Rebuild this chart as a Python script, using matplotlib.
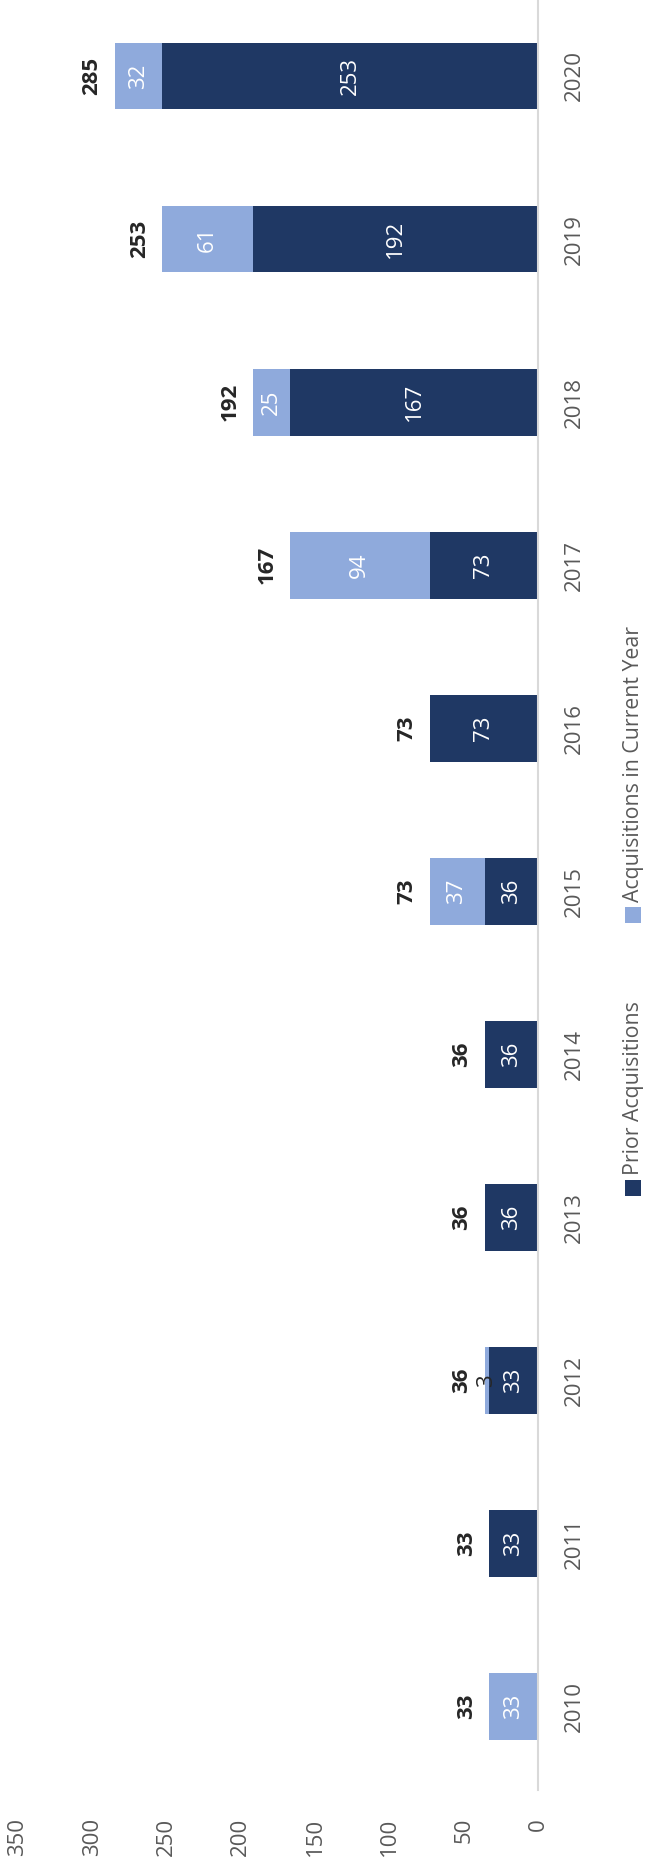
import matplotlib
matplotlib.use('Agg')
import matplotlib.pyplot as plt
from matplotlib.patches import Rectangle
import numpy as np

# ---- data ----
years = ['2010', '2011', '2012', '2013', '2014', '2015', '2016', '2017', '2018', '2019', '2020']
prior = [0, 33, 33, 36, 36, 36, 73, 73, 167, 192, 253]
current = [33, 0, 3, 0, 0, 37, 0, 94, 25, 61, 32]
totals = [33, 33, 36, 36, 36, 73, 73, 167, 192, 253, 285]
series_names = ['Prior Acquisitions', 'Acquisitions in Current Year']
value_ticks = [0, 50, 100, 150, 200, 250, 300, 350]

DARK = '#1F3864'
LIGHT = '#8FAADC'
GRAY = '#595959'
LBL = '#262626'

plt.rcParams['font.family'] = ['Open Sans', 'DejaVu Sans']

W, H = 645, 1864
fig = plt.figure(figsize=(W / 100, H / 100), dpi=100)

x_left, x_zero = 18, 538
y_top, y_bot = 0, 1790
ax = fig.add_axes([x_left / W, 1 - y_bot / H, (x_zero - x_left) / W, (y_bot - y_top) / H])

pos = np.arange(len(years))
bh = 0.41
ax.barh(pos, prior, height=bh, color=DARK, label=series_names[0])
ax.barh(pos, current, left=prior, height=bh, color=LIGHT, label=series_names[1])

ax.set_xlim(350, 0)
ax.set_ylim(-0.512, 10.466)

for s in ['top', 'bottom', 'left']:
    ax.spines[s].set_visible(False)
ax.spines['right'].set_color('#D9D9D9')
ax.spines['right'].set_linewidth(1.5)

ax.yaxis.tick_right()
ax.set_yticks(pos)
ax.set_yticklabels(years, rotation=90, va='center', ha='center', color=GRAY, fontsize=16)
ax.tick_params(axis='y', length=0, pad=26)

ax.set_xticks(value_ticks)
ax.set_xticklabels([str(v) for v in value_ticks], rotation=90, va='top', ha='center', color=GRAY, fontsize=16)
ax.tick_params(axis='x', length=0, pad=20)

# segment labels
for i in range(len(years)):
    if prior[i] > 0:
        ax.text(prior[i] / 2, pos[i], str(prior[i]), rotation=90, ha='center', va='center',
                color='white', fontsize=16)
    if current[i] > 0:
        c = 'white' if current[i] > 10 else LBL
        ax.text(prior[i] + current[i] / 2, pos[i], str(current[i]), rotation=90, ha='center',
                va='center', color=c, fontsize=16)
    ax.annotate(str(totals[i]), xy=(totals[i], pos[i]), xytext=(-12, 0), textcoords='offset pixels',
                rotation=90, ha='right', va='center', color=LBL, fontsize=16, fontweight='bold')

# legend (rotated, drawn manually in figure pixel coords)
def fx(px):
    return px / W

def fy(py):
    return 1 - py / H

leg = [(1188, DARK, series_names[0]), (915, LIGHT, series_names[1])]
for yc, col, name in leg:
    ms = 16
    fig.patches.append(Rectangle((fx(633 - ms / 2), fy(yc + ms / 2)), ms / W, ms / H,
                                 transform=fig.transFigure, facecolor=col, edgecolor='none'))
    fig.text(fx(633), fy(yc - 13), name, rotation=90, ha='center', va='bottom',
             color=GRAY, fontsize=15.3)

fig.savefig('out.png', dpi=100, facecolor='white')
